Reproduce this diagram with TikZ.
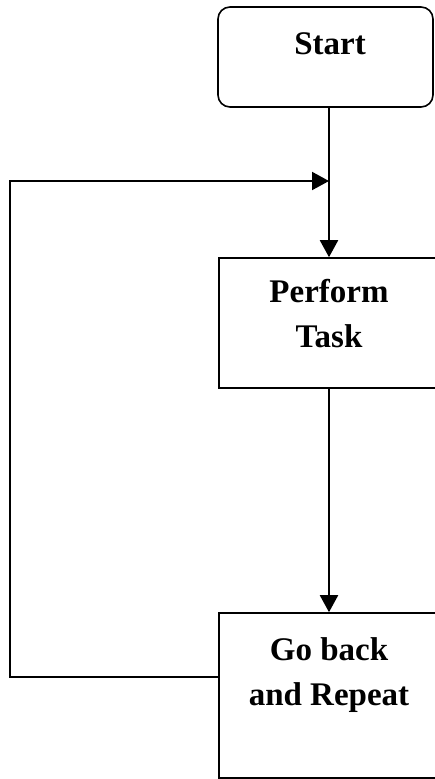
\documentclass[tikz,border=0pt]{standalone}
\usepackage{fontspec}
\setmainfont{Liberation Serif}
\usetikzlibrary{arrows.meta}

\begin{document}
\begin{tikzpicture}[x=1pt, y=-1pt]
        \tikzstyle{box} = [draw, line width=1.6pt, inner sep=0pt]
        \tikzstyle{txt} = [align=center, anchor=north, inner sep=0pt, font=\fontsize{33}{45}\selectfont\bfseries]
        \tikzstyle{flow} = [line width=2pt, -{Triangle[length=17pt, width=18pt]}]
        \useasboundingbox (0,0) rectangle (435,779);
        % boxes
        \node[box, rounded corners=12pt, minimum width=215pt, minimum height=100pt] (start) at (325.5, 57) {};
        \node[box, minimum width=220pt, minimum height=130pt] (perform) at (329, 323) {};
        \node[box, minimum width=220pt, minimum height=165pt] (goback) at (329, 695.5) {};
        \node[txt] (starttxt) at (330, 32) {Start};
        \node[txt] (performtxt) at (329, 279) {Perform\\Task};
        \node[txt] (gobacktxt) at (329, 637) {Go back\\and Repeat};
        \coordinate (low) at (10, 677);
        \coordinate (high) at (10, 181);
        % arrows
        \draw[flow] (start.south -| perform.north) -- (perform.north);
        \draw[flow] (perform.south) -- (goback.north);
        \draw[flow] (goback.west |- low) -- (low) -- (high) -- (high -| perform.north);
      \end{tikzpicture}
\end{document}
